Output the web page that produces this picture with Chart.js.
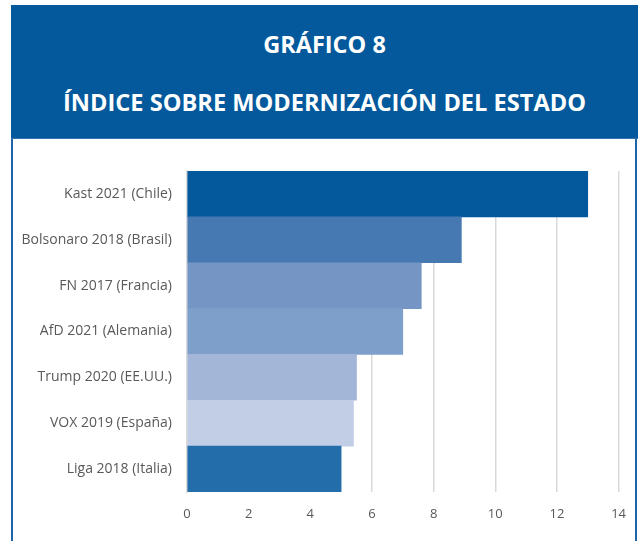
<!DOCTYPE html>
<html>
<head>
<meta charset="utf-8">
<script src="https://cdn.jsdelivr.net/npm/chart.js@4/dist/chart.umd.min.js"></script>
<style>
  body { margin: 0; background: #fff; width: 638px; height: 541px; overflow: hidden; position: relative; font-family: "Open Sans", sans-serif; }
  #header { position: absolute; left: 11px; top: 5px; width: 627px; height: 133px; background: #03599c; border-bottom: 1px solid #2f74b0; color: #fff; text-align: center; font-weight: bold; }
  #header .t1 { position: absolute; left: 0; right: 0; top: 22px; font-size: 23.5px; line-height: 34px; }
  #header .t2 { position: absolute; left: 0; right: 0; top: 80px; font-size: 23.6px; line-height: 34px; }
  #wrap { position: absolute; left: 13px; top: 139px; width: 627px; height: 402px; }
  #frame { position: absolute; left: 11px; top: 139px; width: 622px; height: 410px; border-left: 2px solid #1f64a8; border-right: 2px solid #1f64a8; z-index: 2; pointer-events: none; }
</style>
</head>
<body>
<div id="header">
  <div class="t1">GRÁFICO 8</div>
  <div class="t2">ÍNDICE SOBRE MODERNIZACIÓN DEL ESTADO</div>
</div>
<div id="wrap"><canvas id="barChart" width="627" height="402"></canvas></div>
<div id="frame"></div>
<script>
// Kategorien und Werte
let categories = ['Kast 2021 (Chile)', 'Bolsonaro 2018 (Brasil)', 'FN 2017 (Francia)', 'AfD 2021 (Alemania)', 'Trump 2020 (EE.UU.)', 'VOX 2019 (España)', 'Liga 2018 (Italia)'];
let values = [13.0, 8.9, 7.6, 7.0, 5.5, 5.4, 5.0];
let xTicks = [0, 2, 4, 6, 8, 10, 12, 14];

// Farben pro Balken
let barColors = ['#03599c', '#4679b2', '#7596c4', '#7f9fcb', '#a4b6d8', '#c2cee6', '#236daa'];

let config = {
  type: 'bar',
  data: { labels: categories, datasets: [{ data: values, backgroundColor: barColors, borderWidth: 0, barPercentage: 1, categoryPercentage: 1 }] },
  options: {
    indexAxis: 'y',
    responsive: false,
    animation: false,
    layout: { padding: { top: 32, right: 0, left: 0, bottom: 0 } },
    plugins: { legend: { display: false }, tooltip: { enabled: false } },
    scales: {
      x: {
        min: xTicks[0], max: xTicks[xTicks.length - 1],
        afterBuildTicks: axis => { axis.ticks = xTicks.map(v => ({ value: v })); },
        afterFit: axis => { axis.height = 49; },
        grid: { color: '#d9d9d9', lineWidth: 1.5, drawTicks: false },
        border: { display: false },
        ticks: { color: '#595959', padding: 14, font: { family: 'Open Sans', size: 13 } }
      },
      y: {
        afterFit: axis => { axis.width = 174; },
        grid: { display: false, drawTicks: false },
        border: { color: '#d9d9d9', width: 1.5 },
        ticks: { color: '#595959', padding: 15, font: { family: 'Open Sans', size: 14 } }
      }
    }
  }
};

let ctx = document.getElementById('barChart').getContext('2d');
let barChart = new Chart(ctx, config);
</script>
</body>
</html>
